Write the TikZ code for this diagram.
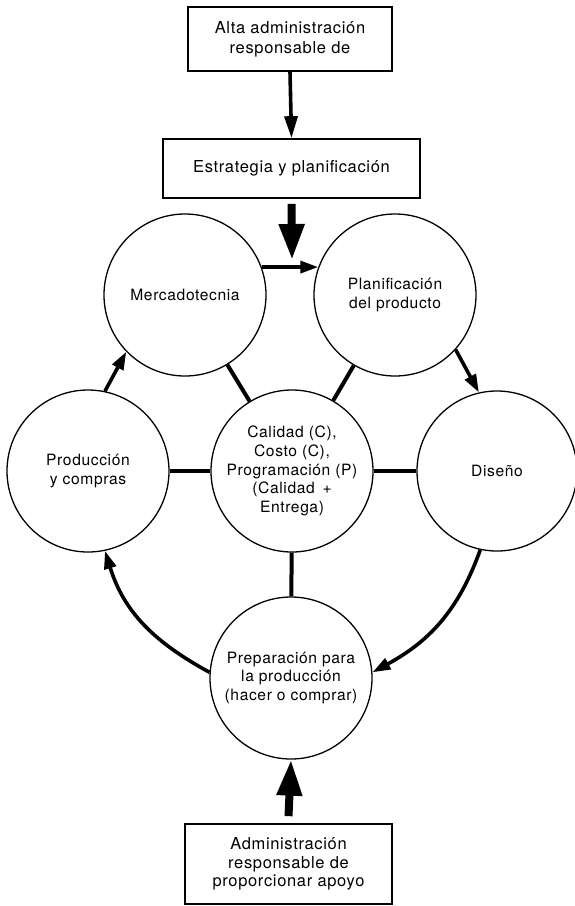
\documentclass[tikz,border=0pt]{standalone}
\usepackage{fontspec}
\setmainfont{TeX Gyre Heros}[LetterSpace=4]
\usetikzlibrary{arrows.meta}
\begin{document}
\begin{tikzpicture}[x=1pt,y=-1pt,
  txt/.style={font=\fontsize{16.5}{18.6}\selectfont, align=center},
  stage/.style={txt, font=\fontsize{15.6}{18.6}\selectfont, circle, draw, line width=1.3pt, minimum size=162pt, inner sep=0pt},
  panel/.style={txt, rectangle, draw, line width=1.7pt, inner sep=0pt},
  link/.style={line width=4pt},
  flow/.style={line width=3.6pt, -{Triangle[length=18pt,width=12pt]}},
  thinflow/.style={line width=3.6pt, -{Triangle[length=22pt,width=13pt]}},
  bigflow/.style={line width=8pt, -{Triangle[length=36pt,width=24pt]}}
]
\useasboundingbox (0,0) rectangle (575,906);

% management boxes
\node[panel, minimum width=204pt, minimum height=64pt, font=\fontsize{16.5}{20}\selectfont]
  (top) at (290,39) {Alta administración\\responsable de};
\node[panel, minimum width=257pt, minimum height=59pt] (estr) at (291.5,168.5) {Estrategia y planificación};
\node[panel, minimum width=207pt, minimum height=80pt] (bot) at (288.5,864)
  {Administración\\responsable de\\proporcionar apoyo};

% functional circles
\node[stage] (merc) at (185,295) {Mercadotecnia};
\node[stage] (plan) at (395,295) {Planificación\\del producto\vphantom{g}};
\node[stage] (prod) at (88,471) {Producción\\y compras};
\node[stage] (cal) at (292,471) {Calidad (C),\\Costo (C),\\Programación (P)\\(Calidad\enspace+\\Entrega)};
\node[stage, minimum size=160pt] (dis) at (497,471) {Diseño};
\node[stage] (prep) at (291,678) {Preparación para\\la producción\\(hacer o comprar)};

\coordinate (strTip) at (292,260);

% spokes from the hub
\draw[link] (cal) -- (merc);
\draw[link] (cal) -- (plan);
\draw[link] (cal) -- (prod);
\draw[link] (cal) -- (dis);
\draw[link] (cal) -- (prep);

% arrows
\draw[thinflow] (top.south) -- (estr.north);
\draw[bigflow] ([yshift=-5pt]estr.south) -- (strTip);
\draw[bigflow] ([yshift=7pt]bot.north) -- (prep.south);

\draw[flow] (merc.20) -- (plan.160);
\draw[flow] (plan.318) -- (dis.103);
\draw[flow] (prod.78) -- (merc.224);
\draw[flow] (dis.258) .. controls (458,612) and (428,642) .. (prep.4);
\draw[flow] (prep.176) .. controls (154,642) and (124,612) .. (prod.282);
\end{tikzpicture}
\end{document}
